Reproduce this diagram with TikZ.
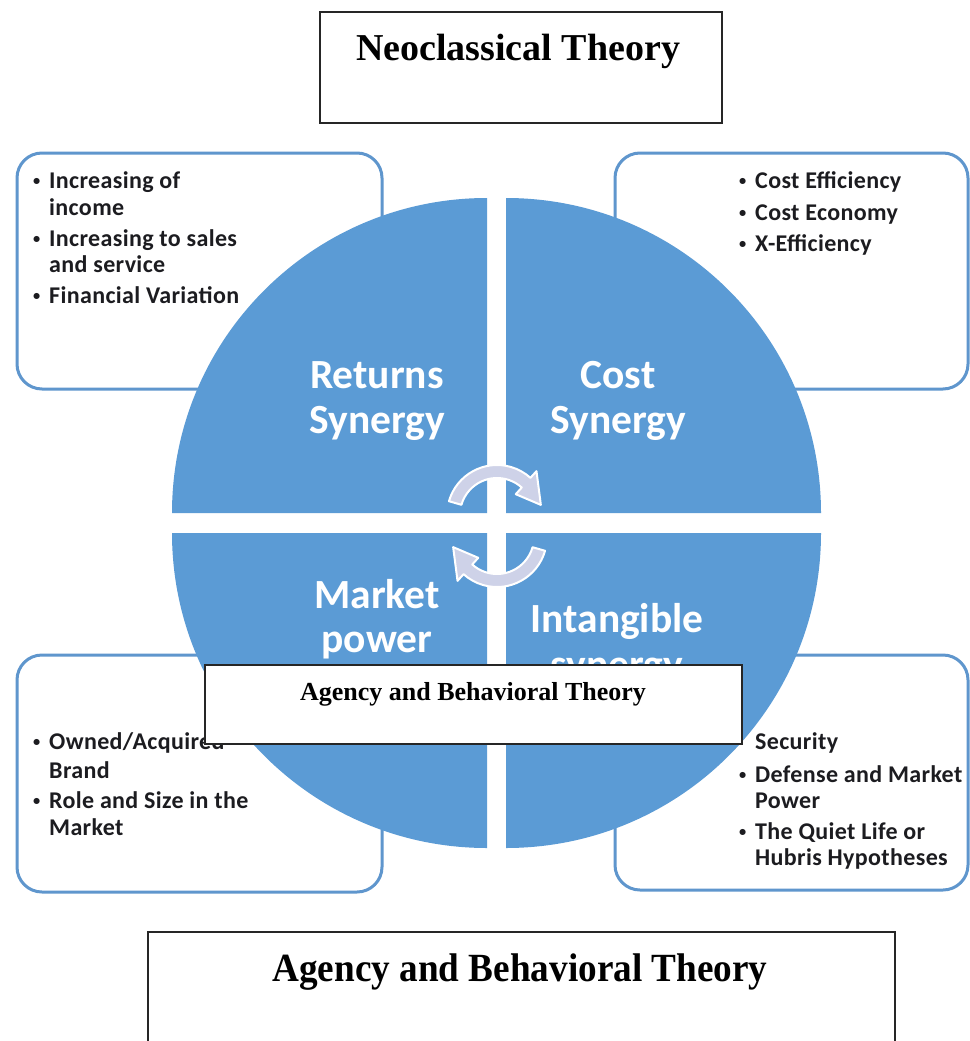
\documentclass[tikz,border=0pt]{standalone}
\usepackage{fontspec}
\usetikzlibrary{calc}
\setmainfont{Liberation Serif}
\newfontfamily\carlito{Carlito}
\newfontfamily\carlitols[LetterSpace=1.5]{Carlito}
\definecolor{quadblue}{RGB}{91,155,213}
\definecolor{boxblue}{RGB}{95,150,205}
\definecolor{arrowc}{RGB}{206,210,232}
\definecolor{txt}{RGB}{28,28,32}
\tikzset{
  sidebox/.style={draw=boxblue, line width=3pt, fill=white, rounded corners=25pt},
  quad/.style={fill=quadblue},
  titlebox/.style={draw=black!85, line width=1.5pt, fill=white},
  bul/.style={font=\carlitols\bfseries\fontsize{24}{27}\selectfont, text=txt, inner sep=0pt, anchor=base west},
  qlab/.style={font=\carlito\bfseries\fontsize{41.5}{47}\selectfont, text=white, inner sep=0pt, anchor=base},
  ttl/.style={font=\bfseries, text=black, inner sep=0pt, anchor=base},
  cyc/.style={fill=arrowc, draw=white, line width=2pt, line join=round}
}
\newcommand{\bu}{\makebox[16pt][l]{\raisebox{2.5pt}{\scalebox{0.6}{•}}}}
\begin{document}
\begin{tikzpicture}[x=1pt,y=1pt]
\useasboundingbox (0,0) rectangle (969,-1041);
\fill[white] (0,0) rectangle (969,-1041);

% side boxes (behind the circle)
\draw[sidebox] (17,-153) rectangle (382,-389);
\draw[sidebox] (615,-153) rectangle (968,-389);
\draw[sidebox] (17,-655) rectangle (382,-892);
\draw[sidebox] (615,-655) rectangle (968,-890);

% quadrants
\fill[quad] (487,-513) -- (172,-513) arc[start angle=180,end angle=90,radius=315pt] -- cycle;
\fill[quad] (506,-513) -- (506,-198) arc[start angle=90,end angle=0,radius=315pt] -- cycle;
\fill[quad] (487,-533) -- (172,-533) arc[start angle=180,end angle=270,radius=315pt] -- cycle;
\fill[quad] (506,-533) -- (821,-533) arc[start angle=0,end angle=-90,radius=315pt] -- cycle;

% cycle arrows
\coordinate (tc) at (497,-515);
\path[cyc] ($(tc)+(164:50)$) arc[start angle=164,end angle=48,radius=50pt]
  -- ($(tc)+(48:59)$) -- ($(tc)+(13:45)$) -- ($(tc)+(48:28)$) -- ($(tc)+(48:37)$)
  arc[start angle=48,end angle=164,radius=37pt] -- cycle;
\begin{scope}[rotate around={180:(497,-526)}]
\coordinate (bc) at (497,-515);
\path[cyc] ($(bc)+(164:50)$) arc[start angle=164,end angle=48,radius=50pt]
  -- ($(bc)+(48:59)$) -- ($(bc)+(13:45)$) -- ($(bc)+(48:28)$) -- ($(bc)+(48:37)$)
  arc[start angle=48,end angle=164,radius=37pt] -- cycle;
\end{scope}

% quadrant labels
\node[qlab] (q1a) at (377,-388) {Returns};
\node[qlab] (q1b) at (377,-433) {Synergy};
\node[qlab] (q2a) at (618,-388) {Cost};
\node[qlab] (q2b) at (618,-433) {Synergy};
\node[qlab] (q3a) at (377,-608) {Market};
\node[qlab] (q3b) at (377,-652) {power};
\node[qlab] (q4a) at (617,-632) {Intangible};
\node[qlab] (q4b) at (617,-678) {synergy};

% top-left list
\node[bul] (tl1) at (33,-188) {\bu Increasing of};
\node[bul] (tl2) at (49,-215) {income};
\node[bul] (tl3) at (33,-246) {\bu Increasing to sales};
\node[bul] (tl4) at (49,-272) {and service};
\node[bul] (tl5) at (33,-303) {\bu Financial Variation};

% top-right list
\node[bul] (tr1) at (739,-188) {\bu Cost Efficiency};
\node[bul] (tr2) at (739,-220) {\bu Cost Economy};
\node[bul] (tr3) at (739,-251) {\bu X-Efficiency};

% bottom-left list
\node[bul] (bl1) at (33,-749) {\bu Owned/Acquired};
\node[bul] (bl2) at (49,-778) {Brand};
\node[bul] (bl3) at (33,-808) {\bu Role and Size in the};
\node[bul] (bl4) at (49,-835) {Market};

% bottom-right list
\node[bul] (br1) at (755,-749) {Security};
\node[bul] (br2) at (739,-782) {\bu Defense and Market};
\node[bul] (br3) at (755,-808) {Power};
\node[bul] (br4) at (739,-839) {\bu The Quiet Life or};
\node[bul] (br5) at (755,-865) {Hubris Hypotheses};

% title boxes
\draw[titlebox] (320,-12) rectangle (722,-123);
\node[ttl, font=\bfseries\fontsize{38}{44}\selectfont] (neo) at (518,-60) {Neoclassical Theory};

\draw[titlebox] (205,-665) rectangle (742,-744);
\node[ttl, font=\bfseries\fontsize{26}{30}\selectfont] (abm) at (473,-700) {Agency and Behavioral Theory};

\draw[titlebox] (148,-1045) -- (148,-932) -- (895,-932) -- (895,-1045);
\node[ttl, font=\bfseries\fontsize{40}{46}\selectfont] (abb) at (520,-981) {\scalebox{0.93}[1]{Agency and Behavioral Theory}};
\end{tikzpicture}
\end{document}
